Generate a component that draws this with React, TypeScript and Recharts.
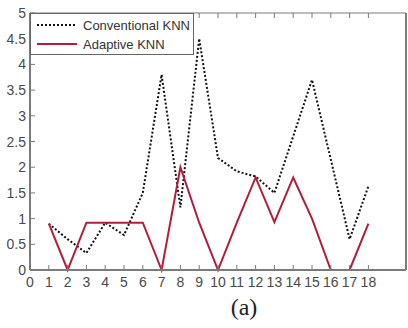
import { LineChart, Line, XAxis, YAxis, Legend } from 'recharts';

const runs = [1, 2, 3, 4, 5, 6, 7, 8, 9, 10, 11, 12, 13, 14, 15, 16, 17, 18];
const conventional = [0.9, 0.6, 0.33, 0.92, 0.68, 1.5, 3.8, 1.22, 4.5, 2.18, 1.92, 1.82, 1.5, 2.6, 3.7, 2.15, 0.6, 1.63];
const adaptive = [0.9, 0, 0.92, 0.92, 0.92, 0.92, 0, 2.0, 0.92, 0, 0.92, 1.8, 0.93, 1.8, 1.0, 0, 0, 0.9];
const xTicks = [0, 1, 2, 3, 4, 5, 6, 7, 8, 9, 10, 11, 12, 13, 14, 15, 16, 17, 18];
const yTicks = [0, 0.5, 1, 1.5, 2, 2.5, 3, 3.5, 4, 4.5, 5];

const data = runs.map((r, i) => ({ run: r, conventional: conventional[i], adaptive: adaptive[i] }));

const axisColor = '#7a7a7a';
const labelColor = '#4a4a4a';
const font = '"Liberation Sans", Arial, sans-serif';

const BottomTick = (p: any) => (
  <g>
    <line x1={p.x} x2={p.x} y1={p.y} y2={p.y - 5} stroke={axisColor} />
    <text x={p.x} y={p.y + 17} textAnchor="middle" fill={labelColor} fontSize={14} fontFamily={font}>
      {p.payload.value}
    </text>
  </g>
);
const TopTick = (p: any) => <line x1={p.x} x2={p.x} y1={p.y} y2={p.y + 5} stroke={axisColor} />;
const LeftTick = (p: any) => (
  <g>
    <line x1={p.x} x2={p.x + 5} y1={p.y} y2={p.y} stroke={axisColor} />
    <text x={p.x - 4} y={p.y + 5} textAnchor="end" fill={labelColor} fontSize={14} fontFamily={font}>
      {p.payload.value}
    </text>
  </g>
);
const RightTick = (p: any) => <line x1={p.x} x2={p.x - 5} y1={p.y} y2={p.y} stroke={axisColor} />;

function LegendBox() {
  return (
    <div
      style={{
        border: '1px solid #666',
        background: '#fff',
        width: 164,
        height: 42,
        boxSizing: 'border-box',
        fontFamily: font,
        fontSize: 13,
        color: '#333',
      }}
    >
      <svg width={162} height={40} style={{ display: 'block' }}>
        <line x1={6} x2={46} y1={11} y2={11} stroke="#111" strokeWidth={2} strokeDasharray="2 2" />
        <text x={52} y={16} fontSize={13} fill="#333" fontFamily={font}>Conventional KNN</text>
        <line x1={6} x2={46} y1={30} y2={30} stroke="#b01e3c" strokeWidth={2} />
        <text x={52} y={35} fontSize={13} fill="#333" fontFamily={font}>Adaptive KNN</text>
      </svg>
    </div>
  );
}

export default function App() {
  return (
    <div style={{ position: 'absolute', left: 0, top: 0, width: 408, height: 328, background: '#fff' }}>
      <LineChart width={408} height={328} data={data} margin={{ top: 12, right: 1, bottom: 57, left: 29 }}>
        <XAxis
          dataKey="run"
          type="number"
          domain={[0, 20]}
          ticks={xTicks}
          height={1}
          tickSize={0}
          tickMargin={0}
          tickLine={false}
          stroke={axisColor}
          strokeWidth={2}
          tick={<BottomTick />}
          interval={0}
        />
        <XAxis
          xAxisId="top"
          orientation="top"
          dataKey="run"
          type="number"
          domain={[0, 20]}
          ticks={xTicks}
          height={1}
          tickSize={0}
          tickMargin={0}
          tickLine={false}
          stroke={axisColor}
          tick={<TopTick />}
          interval={0}
        />
        <YAxis
          type="number"
          domain={[0, 5]}
          ticks={yTicks}
          width={1}
          tickSize={0}
          tickMargin={0}
          tickLine={false}
          stroke={axisColor}
          strokeWidth={2}
          tick={<LeftTick />}
          interval={0}
        />
        <YAxis
          yAxisId="right"
          orientation="right"
          type="number"
          domain={[0, 5]}
          ticks={yTicks}
          width={1}
          tickSize={0}
          tickMargin={0}
          tickLine={false}
          stroke={axisColor}
          strokeWidth={2}
          tick={<RightTick />}
          interval={0}
        />
        <Legend
          layout="horizontal"
          verticalAlign="middle"
          align="center"
          wrapperStyle={{ top: 13, left: 30, width: 164 }}
          content={() => <LegendBox />}
        />
        <Line
          dataKey="conventional"
          stroke="#111"
          strokeWidth={2}
          strokeDasharray="2 2"
          dot={false}
          isAnimationActive={false}
        />
        <Line
          dataKey="adaptive"
          stroke="#b01e3c"
          strokeWidth={2}
          dot={false}
          isAnimationActive={false}
        />
      </LineChart>
      <div
        style={{
          position: 'absolute',
          left: 0,
          width: 408,
          top: 294,
          textAlign: 'center',
          paddingLeft: 80,
          boxSizing: 'border-box',
          fontFamily: '"Liberation Serif", "Times New Roman", serif',
          fontSize: 24,
          color: '#222',
        }}
      >
        (a)
      </div>
    </div>
  );
}
